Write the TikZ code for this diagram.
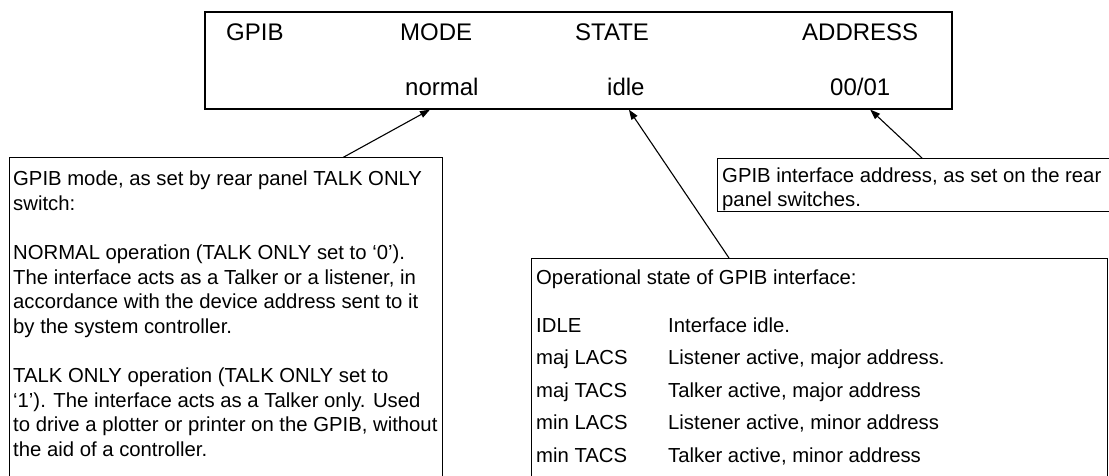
\documentclass[tikz,border=0pt]{standalone}
\usepackage{fontspec}
\setmainfont{Liberation Sans}
\usetikzlibrary{arrows.meta,calc}

\tikzset{
  panel/.style={draw, line width=1.6bp, inner sep=0pt, anchor=north west},
  note/.style={draw, line width=0.9bp, inner sep=0pt, anchor=north west},
  disptext/.style={inner sep=0pt, anchor=base west, font=\fontsize{24bp}{28bp}\selectfont},
  notetext/.style={inner sep=0pt, anchor=north west, align=left, font=\fontsize{20.3bp}{24.6bp}\selectfont},
  pointer/.style={line width=1.1bp, -{Triangle[length=10bp,width=7bp]}}
}
\newcommand{\statecol}[1]{\makebox[132bp][l]{#1}}

\begin{document}
\begin{tikzpicture}[x=1bp, y=-1bp]
  \useasboundingbox (0,0) rectangle (1109,476);
  \clip (0,0) rectangle (1109,476);

  % front panel display
  \node[panel, minimum width=747bp, minimum height=97bp] (display) at (204,11) {};
  \node[disptext] (gpib) at (226,41) {GPIB};
  \node[disptext] (mode) at (400,41) {MODE};
  \node[disptext] (state) at (575,41) {STATE};
  \node[disptext] (address) at (802,41) {ADDRESS};
  \node[disptext] (normal) at (405,96) {normal};
  \node[disptext] (idle) at (607,96) {idle};
  \node[disptext] (addr) at (830,96) {00/01};

  % notes
  \node[note, minimum width=433bp, minimum height=335bp] (modenote) at (9,157.5) {};
  \node[notetext] (modetext) at (13,168.3) {\strut GPIB mode, as set by rear panel TALK ONLY\\
    switch:\\[24.6bp]
    NORMAL operation (TALK ONLY set to `0').\\
    The interface acts as a Talker or a listener, in\\
    accordance with the device address sent to it\\
    by the system controller.\\[24.6bp]
    TALK ONLY operation (TALK ONLY set to\\
    `1'). The interface acts as a Talker only. Used\\
    to drive a plotter or printer on the GPIB, without\\
    the aid of a controller.};

  \node[note, minimum width=576bp, minimum height=235bp] (statenote) at (531,258) {};
  \node[notetext] (statetext) at (536,266.8) {\strut Operational state of GPIB interface:\\[23.4bp]
    \statecol{IDLE}Interface idle.\\[7.9bp]
    \statecol{maj LACS}Listener active, major address.\\[7.9bp]
    \statecol{maj TACS}Talker active, major address\\[7.9bp]
    \statecol{min LACS}Listener active, minor address\\[7.9bp]
    \statecol{min TACS}Talker active, minor address};

  \node[note, minimum width=392bp, minimum height=53bp] (addrnote) at (717,158) {};
  \node[notetext] (addrtext) at (722,164.8) {\strut GPIB interface address, as set on the rear\\
    panel switches.};

  % pointers
  \draw[pointer] ($(modenote.north west)+(334,0)$) -- ($(normal.west |- display.south)+(25,0)$);
  \draw[pointer] ($(statenote.north west)+(198,0)$) -- ($(idle.south |- display.south)+(3,0)$);
  \draw[pointer] ($(addrnote.north west)+(205,0)$) -- ($(addr.south |- display.south)+(10,0)$);
\end{tikzpicture}
\end{document}
